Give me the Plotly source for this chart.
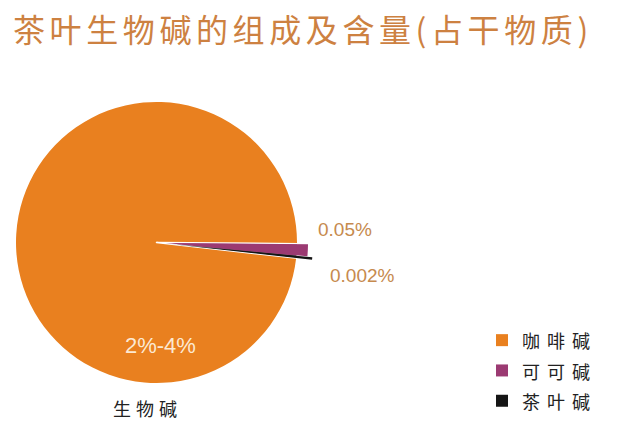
import plotly.graph_objects as go

# ---- data ----
categories = ["咖啡碱", "可可碱", "茶叶碱"]
slice_sizes = [354.1, 4.9, 1.0]          # drawn share of the circle (degrees as drawn)
content_labels = ["2%-4%", "0.05%", "0.002%"]
title_text = "茶叶生物碱的组成及含量(占干物质)"
group_label = "生物碱"

# ---- styles ----
slice_colors = ["#E9801F", "#9B3A72", "#151515"]
W, H = 630, 429
CJK = "Noto Sans CJK SC"
LAT = "Liberation Sans"

legend_names = [
    f'<span style="font-size:18px;letter-spacing:7px">{c}</span>' for c in categories
]

fig = go.Figure()

# base pie (orange body + legend)
fig.add_trace(go.Pie(
    labels=legend_names,
    values=slice_sizes,
    text=content_labels,
    sort=False,
    direction="clockwise",
    rotation=96.4,
    marker=dict(colors=slice_colors, line=dict(width=0)),
    textinfo="none",
    hoverinfo="text",
    domain=dict(x=[16 / W, 297 / W], y=[1 - 383 / H, 1 - 102 / H]),
    showlegend=True,
))

# overlay pie: the small slices drawn longer than the body
fig.add_trace(go.Pie(
    labels=legend_names,
    values=slice_sizes,
    sort=False,
    direction="clockwise",
    rotation=96.4,
    pull=[0, 0.065, 0.1],
    marker=dict(colors=["rgba(0,0,0,0)", slice_colors[1], slice_colors[2]],
                line=dict(color="white", width=[1.5, 0, 0])),
    textinfo="none",
    hoverinfo="skip",
    domain=dict(x=[0, 313 / W], y=[30 / H, 343 / H]),
    showlegend=False,
))

pct_color = "#C68A4E"
annotations = [
    dict(text=content_labels[0], x=160 / W, y=1 - 345 / H,
         font=dict(family=LAT, size=22, color="#FCE9D2")),
    dict(text=content_labels[1], x=345 / W, y=1 - 229 / H,
         font=dict(family=LAT, size=19, color=pct_color)),
    dict(text=content_labels[2], x=362 / W, y=1 - 275 / H,
         font=dict(family=LAT, size=19, color=pct_color)),
    dict(text=f'<span style="letter-spacing:5px">{group_label}</span>',
         x=147 / W, y=1 - 408 / H,
         font=dict(family=CJK, size=18, color="#222222")),
]
for a in annotations:
    a.update(xref="paper", yref="paper", showarrow=False,
             xanchor="center", yanchor="middle")

fig.update_layout(
    width=W, height=H,
    margin=dict(l=0, r=0, t=0, b=0),
    paper_bgcolor="white",
    plot_bgcolor="white",
    title=dict(
        text=f'<span style="letter-spacing:4.6px">{title_text}</span>',
        font=dict(family=CJK, size=32, color="#CD8141"),
        x=13 / W, xanchor="left", xref="container",
        y=1 - 31 / H, yanchor="middle", yref="container",
    ),
    legend=dict(
        x=482 / W, y=1 - 320 / H, xanchor="left", yanchor="top",
        font=dict(family=CJK, size=21, color="#222222"),
        bgcolor="rgba(0,0,0,0)",
    ),
    annotations=annotations,
)

fig.write_html("out.html", config={"displayModeBar": False},
               post_script="document.body.style.margin='0';")
